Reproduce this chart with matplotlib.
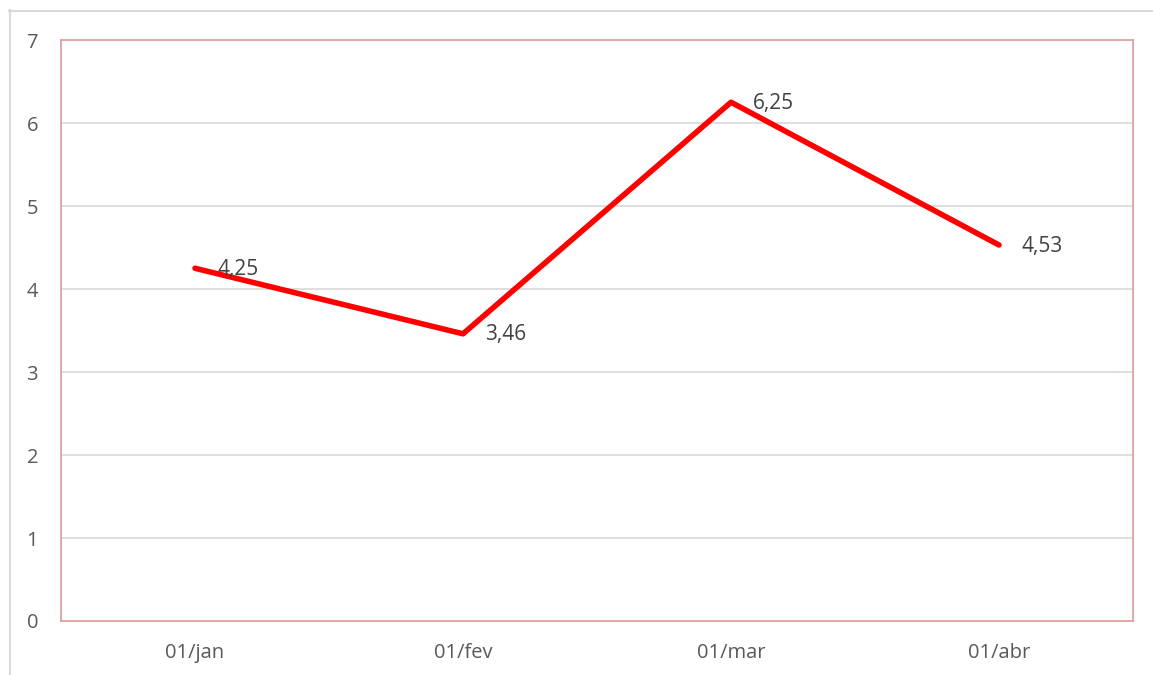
import matplotlib
matplotlib.use("Agg")
import matplotlib.pyplot as plt
from matplotlib.lines import Line2D

plt.rcParams['font.family'] = ['Open Sans', 'DejaVu Sans']

dates = ["01/jan", "01/fev", "01/mar", "01/abr"]
values = [4.25, 3.46, 6.25, 4.53]
value_labels = ["4,25", "3,46", "6,25", "4,53"]

W, H = 1153, 675
fig = plt.figure(figsize=(W / 100, H / 100), dpi=100)
ax = fig.add_axes([61 / W, 1 - 621 / H, (1133 - 61) / W, (621 - 40) / H])

# outer chart frame (light gray, runs off the right and bottom edges)
fig.add_artist(Line2D([9.5 / W, 9.5 / W], [0, 1 - 10 / H], color="#d9d9d9", lw=1.5))
fig.add_artist(Line2D([9 / W, 1], [1 - 10.5 / H, 1 - 10.5 / H], color="#d9d9d9", lw=1.5))

x = list(range(len(dates)))
ax.plot(x, values, color="#ff0000", lw=4, solid_capstyle="round", zorder=3)

for xi, v, lab in zip(x, values, value_labels):
    ax.annotate(lab, (xi, v), xytext=(22, -1), textcoords="offset pixels",
                ha="left", va="center", fontsize=15, color="#404040", zorder=4)

ax.set_xlim(-0.5, 3.5)
ax.set_ylim(0, 7)
ax.set_yticks(range(0, 8))
ax.set_xticks(x)
ax.set_xticklabels(dates)
ax.grid(axis="y", color="#d9d9d9", lw=1.2)
ax.set_axisbelow(True)
ax.tick_params(length=0, labelsize=14.5, labelcolor="#595959")
ax.tick_params(axis="y", pad=16.5)
ax.tick_params(axis="x", pad=16)
for s in ax.spines.values():
    s.set_color("#e2a0a0")
    s.set_linewidth(1.3)

fig.savefig("out.png", dpi=100)
